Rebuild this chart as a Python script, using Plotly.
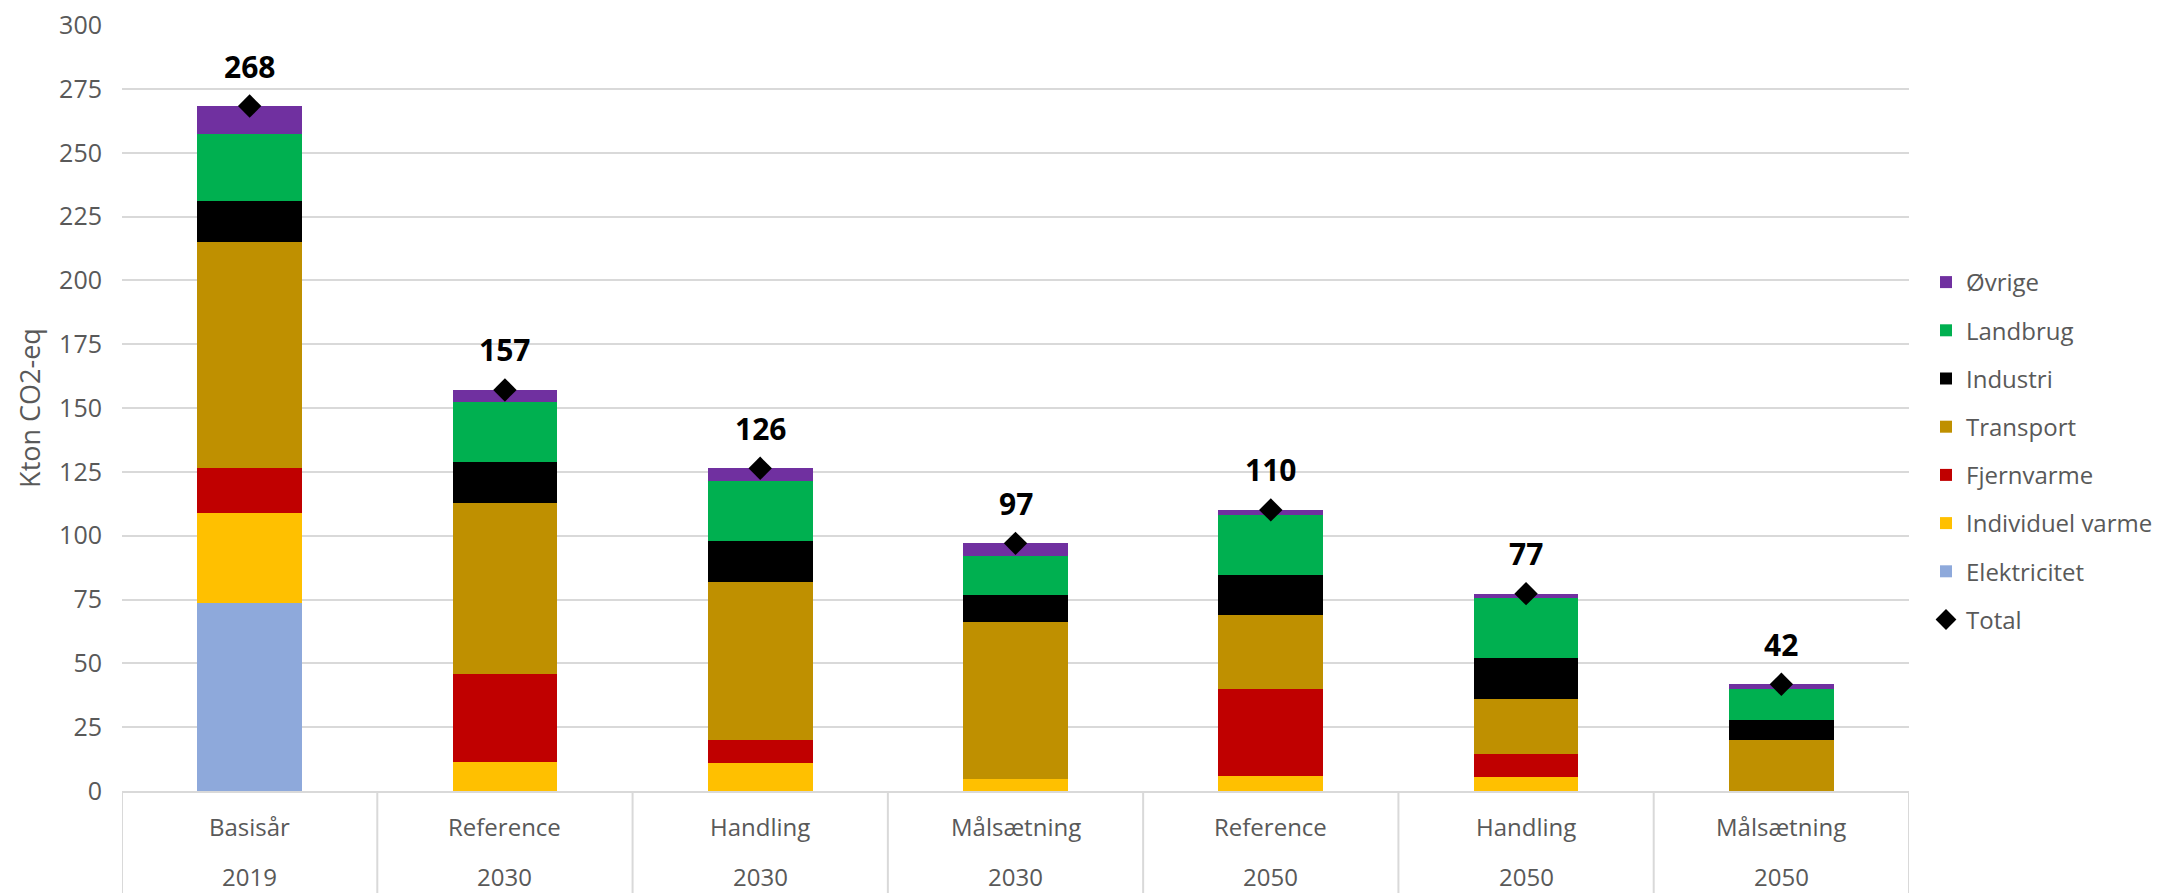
import plotly.graph_objects as go

# ---- data ----
scenarios = ["Basisår", "Reference", "Handling", "Målsætning", "Reference", "Handling", "Målsætning"]
years = ["2019", "2030", "2030", "2030", "2050", "2050", "2050"]

elektricitet = [73.5, 0, 0, 0, 0, 0, 0]
individuel_varme = [35.5, 11.3, 11.0, 4.7, 5.9, 5.5, 0]
fjernvarme = [17.7, 34.7, 9.0, 0, 34.2, 9.0, 0]
transport = [88.4, 66.9, 62.0, 61.5, 28.7, 21.5, 20.0]
industri = [15.9, 16.1, 15.9, 10.4, 15.9, 16.0, 7.8]
landbrug = [26.5, 23.2, 23.5, 15.4, 23.4, 23.5, 12.0]
oevrige = [10.8, 4.9, 5.0, 5.0, 2.0, 1.8, 2.0]
total_labels = ["268", "157", "126", "97", "110", "77", "42"]

series = [
    ("Elektricitet", elektricitet, "#8EA9DB"),
    ("Individuel varme", individuel_varme, "#FFC000"),
    ("Fjernvarme", fjernvarme, "#C00000"),
    ("Transport", transport, "#BF9000"),
    ("Industri", industri, "#000000"),
    ("Landbrug", landbrug, "#00B050"),
    ("Øvrige", oevrige, "#7030A0"),
]

x = list(range(len(scenarios)))
totals = [sum(s[1][i] for s in series) for i in x]

FONT = "Open Sans"
GREY = "#595959"
LINE = "#D9D9D9"

# the page body has an 8px margin: the figure is sized to fit the window
W, H = 2157, 885

fig = go.Figure()
n = len(series)
for k, (name, vals, color) in enumerate(series):
    fig.add_trace(go.Bar(
        x=x, y=vals, name=name, marker=dict(color=color, line=dict(width=0)),
        width=0.41, legendgroup=name, legendrank=n - k,
    ))

fig.add_trace(go.Scatter(
    x=x, y=totals, name="Total", mode="markers",
    marker=dict(symbol="diamond", size=18, color="black"),
    legendgroup="Total", legendrank=n + 1,
))

# total labels
for i in x:
    fig.add_annotation(x=i, y=totals[i], xref="x", yref="y", text=total_labels[i],
                       showarrow=False, yshift=40,
                       font=dict(family=FONT, size=30, color="black", weight="bold"))

# category labels (two rows)
for i in x:
    fig.add_annotation(x=i, y=0, xref="x", yref="paper", text=scenarios[i],
                       showarrow=False, yanchor="middle", yshift=-35,
                       font=dict(family=FONT, size=24, color=GREY))
    fig.add_annotation(x=i, y=0, xref="x", yref="paper", text=years[i],
                       showarrow=False, yanchor="middle", yshift=-85,
                       font=dict(family=FONT, size=24, color=GREY))

# separators of category axis
for b in [i - 0.5 for i in range(len(x) + 1)]:
    fig.add_shape(type="line", xref="x", yref="paper", x0=b, x1=b, y0=0, y1=-0.2,
                  line=dict(color=LINE, width=2))

fig.update_layout(
    width=W, height=H,
    margin=dict(l=113.5, r=255.5, t=17, b=101.5, autoexpand=False),
    barmode="stack",
    plot_bgcolor="white", paper_bgcolor="white",
    font=dict(family=FONT, size=24, color=GREY),
    showlegend=True,
    legend=dict(
        xref="container", x=1918 / W, xanchor="left",
        yref="container", y=1 - 443 / H, yanchor="middle",
        font=dict(family=FONT, size=24, color=GREY),
        traceorder="grouped", tracegroupgap=14,
        bgcolor="rgba(0,0,0,0)",
    ),
    xaxis=dict(range=[-0.5, len(x) - 0.5], showticklabels=False, showgrid=False,
               zeroline=False, showline=True, linecolor=LINE, linewidth=2, ticks=""),
    yaxis=dict(range=[0, 300.05], dtick=25, tick0=0, showgrid=True, gridcolor=LINE, gridwidth=2,
               zeroline=False, showline=False, ticks="", ticklabelstandoff=19,
               ticklabeloverflow="allow", automargin=False,
               tickfont=dict(family=FONT, size=25, color=GREY),
               title=dict(text="Kton CO2-eq", standoff=10,
                          font=dict(family=FONT, size=27, color=GREY))),
)

fig.write_html("out.html")
